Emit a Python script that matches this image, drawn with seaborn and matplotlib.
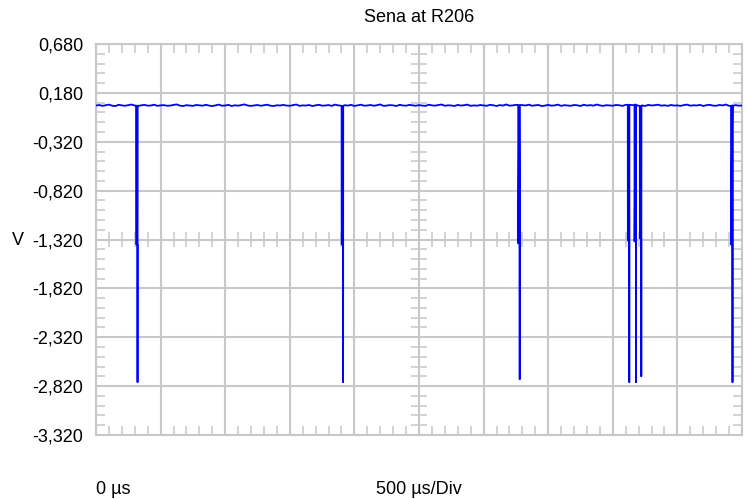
import numpy as np
import pandas as pd
import matplotlib
matplotlib.use("Agg")
import matplotlib.pyplot as plt
import seaborn as sns

# ---------------- data ----------------
title = "Sena at R206"
y_unit = "V"
x_left_label = "0 µs"
x_scale_label = "500 µs/Div"

x_min_us, x_max_us = 0, 5000
y_top, y_bottom = 0.680, -3.320
y_major_step = 0.5
x_major_step = 500

# baseline samples (mV), every 25 µs
baseline_step_us = 25
baseline_mv = [
    50,56,47,53,60,49,45,58,52,48,55,61,50,46,53,57,49,51,59,47,
    52,55,48,50,57,62,49,46,54,51,47,56,53,49,58,50,45,52,60,48,
    51,57,46,53,49,55,62,50,47,52,56,48,54,59,49,46,53,51,57,50,
    48,55,61,47,52,50,56,45,53,58,49,51,55,47,60,52,48,54,50,57,
    46,53,59,49,51,56,48,54,62,47,50,55,52,46,58,51,49,57,53,48,
    55,50,47,59,52,49,56,61,48,53,51,46,57,50,54,60,47,52,49,56,
    51,48,58,53,46,55,50,62,49,52,57,47,54,51,59,48,53,56,45,50,
    57,49,52,60,47,54,51,48,56,53,46,59,50,55,49,61,52,47,54,51,
    49,56,53,47,58,50,55,62,48,52,46,57,51,54,59,49,53,47,56,50,
    52,47,55,60,49,53,51,57,46,54,58,50,48,56,52,61,47,53,55,49,
    51,
]

# glitches (negative pulses)
spike_times_us = [310, 1901, 3268, 4116, 4168, 4209, 4915]
spike_mid_v = [-1.37, -1.37, -1.36, -1.33, -1.34, -1.31, -1.37]
spike_min_v = [-2.78, -2.78, -2.75, -2.78, -2.78, -2.72, -2.78]

# ---------------- build series ----------------
base_t = [i * baseline_step_us for i in range(len(baseline_mv))]
base_v = [m / 1000.0 for m in baseline_mv]
rows = [(t, v, 0) for t, v in zip(base_t, base_v)]
for ts, vm, vmin in zip(spike_times_us, spike_mid_v, spike_min_v):
    idx = min(int(ts // baseline_step_us), len(base_v) - 1)
    b = base_v[idx]
    seq = [(ts, b), (ts + 0.5, vm), (ts + 11, vm), (ts + 11.5, vmin),
           (ts + 12, vm), (ts + 12.5, b)]
    for k, (t, v) in enumerate(seq):
        rows.append((t, v, k + 1))
df = pd.DataFrame(rows, columns=["t", "v", "order"])
df = df.sort_values(["t", "order"], kind="stable").reset_index(drop=True)

# ---------------- figure ----------------
sns.set_style("white")
plt.rcParams["font.family"] = ["Liberation Sans", "DejaVu Sans"]
plt.rcParams["text.color"] = "black"
W, H = 748, 499
fig = plt.figure(figsize=(W / 100, H / 100), dpi=100)
ax = fig.add_axes([96 / W, 1 - 435 / H, 646 / W, 391 / H])

grid_c = "#c8c8c8"
sns.lineplot(data=df, x="t", y="v", sort=False, estimator=None,
             color="#0000ff", linewidth=1.3, ax=ax, zorder=5)

ax.set_xlim(x_min_us, x_max_us)
ax.set_ylim(y_bottom, y_top)

yt = np.arange(y_top, y_bottom - 1e-9, -y_major_step)
ax.set_yticks(yt)
ax.set_yticklabels([f"{v:.3f}".replace(".", ",") for v in yt], fontsize=13,
                   color="#000000")
ax.set_xticks(np.arange(x_min_us, x_max_us + 1, x_major_step))
ax.set_xticklabels([])
ax.set_xticks(np.arange(x_min_us, x_max_us + 1, 100), minor=True)
ax.set_yticks(np.arange(y_bottom, y_top + 1e-9, 0.1), minor=True)

ax.grid(True, which="major", color=grid_c, linewidth=1.5, zorder=0)
ax.tick_params(which="major", length=0, pad=9)
ax.tick_params(which="minor", direction="in", length=6.5, width=1.1,
               color=grid_c, top=True, right=True, bottom=True, left=True)
for s in ax.spines.values():
    s.set_color(grid_c)
    s.set_linewidth(1.5)
ax.set_xlabel("")
ax.set_ylabel("")

# center crosshair ticks
xc = (x_min_us + x_max_us) / 2
yc = (y_top + y_bottom) / 2
mx = [x for x in np.arange(x_min_us, x_max_us + 1, 100) if x % x_major_step != 0]
my = [y for y in np.arange(y_bottom, y_top + 1e-9, 0.1)
      if abs(round((y - y_bottom) / y_major_step) * y_major_step - (y - y_bottom)) > 1e-6]
ax.vlines(mx, yc - 0.08, yc + 0.08, color=grid_c, linewidth=1.1, zorder=1)
ax.hlines(my, xc - 62, xc + 62, color=grid_c, linewidth=1.1, zorder=1)

fig.text(419 / W, 1 - 17 / H, title, ha="center", va="center", fontsize=13, color="black")
fig.text(12 / W, 1 - 241 / H, y_unit, ha="left", va="center", fontsize=13, color="black")
fig.text(96 / W, 1 - 489 / H, x_left_label, ha="left", va="center", fontsize=13, color="black")
fig.text(419 / W, 1 - 489 / H, x_scale_label, ha="center", va="center", fontsize=13, color="black")

fig.savefig("out.png", dpi=100, facecolor="white")
